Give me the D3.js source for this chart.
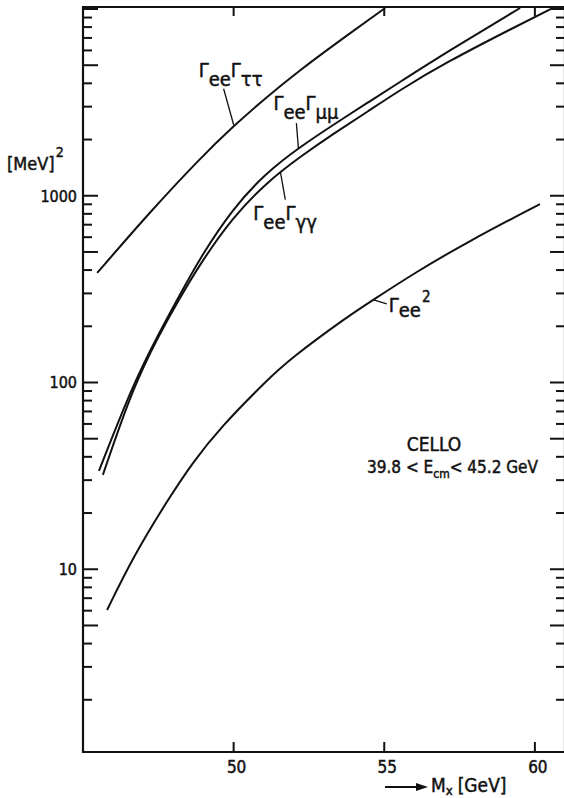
<!DOCTYPE html>
<html>
<head>
<meta charset="utf-8">
<script src="https://cdn.jsdelivr.net/npm/d3@7"></script>
<style>
  body { margin: 0; background: #fff; }
  svg { display: block; }
  text { font-family: "DejaVu Sans Condensed", "DejaVu Sans", sans-serif; font-stretch: condensed;
         fill: #111; stroke: #111; stroke-width: 0.45px; }
</style>
</head>
<body>
<svg id="chart" width="564" height="798"></svg>
<script>
// Values: M_x in GeV, width products in MeV^2
const massTauTau = [45.47, 47.22, 48.88, 49.98, 51.11, 52.2, 53.3, 55.03];
const tauTau     = [386, 818, 1583, 2349, 3395, 4702, 6378, 10125];

const massMuMu = [45.53, 46.66, 47.56, 48.12, 48.88, 49.98, 51.11, 52.2, 53.3, 54.43, 55.52, 57.08, 59.51];
const muMu     = [33.6, 98.2, 188.7, 276.6, 464, 860, 1341, 1824, 2392, 3139, 4065, 5886, 10125];

const massGamGam = [45.66, 46.66, 47.56, 48.12, 48.88, 49.98, 51.11, 52.2, 53.3, 54.43, 55.52, 57.08, 59.27, 60.73];
const gamGam     = [32.0, 94.6, 184.1, 266.6, 431, 770, 1185, 1613, 2141, 2808, 3684, 5203, 7913, 10377];

const massEe = [45.8, 46.66, 47.79, 48.65, 49.55, 51.11, 51.87, 53.76, 54.63, 55.95, 57.75, 60.17];
const eeSq   = [6.05, 11.63, 23.2, 37.5, 57.1, 103.1, 133.6, 224.2, 276.6, 381, 565, 903];

const xTicks = [50, 55, 60];
const yLabelTicks = [10, 100, 1000];
const yDecades = [1, 10, 100, 1000];

const svg = d3.select("#chart");

// plot frame
const frameL = 83, frameR = 565, frameT = 7, frameB = 752;

const x = d3.scaleLinear().domain([45, 61]).range([83, 565]);
const y = d3.scaleLog().domain([1, 10000]).range([756, 9]);

const zip = (xs, ys) => xs.map((m, i) => ({ m: m, v: ys[i] }));
const curves = [
  { key: "tautau", data: zip(massTauTau, tauTau) },
  { key: "mumu", data: zip(massMuMu, muMu) },
  { key: "gamgam", data: zip(massGamGam, gamGam) },
  { key: "ee", data: zip(massEe, eeSq) }
];

svg.append("clipPath").attr("id", "plot-clip")
  .append("rect")
  .attr("x", frameL).attr("y", frameT)
  .attr("width", frameR - frameL).attr("height", frameB - frameT);

const line = d3.line()
  .x(d => x(d.m))
  .y(d => y(d.v))
  .curve(d3.curveBasis);

svg.append("g")
  .attr("clip-path", "url(#plot-clip)")
  .selectAll("path")
  .data(curves)
  .enter()
  .append("path")
  .attr("d", d => line(d.data))
  .attr("fill", "none")
  .attr("stroke", "#111")
  .attr("stroke-width", 2)
  .attr("stroke-linejoin", "round");

// frame
svg.append("path")
  .attr("d", `M${frameR},${frameT}H${frameL}V${frameB}H${frameR}V${frameT}`)
  .attr("fill", "none")
  .attr("stroke", "#111")
  .attr("stroke-width", 2.2);

// log ticks on both vertical sides
const yTickVals = [];
yDecades.forEach(d => {
  d3.range(1, 10).forEach(k => {
    const v = k * d;
    if (y(v) <= frameB && y(v) >= frameT) yTickVals.push({ v: v, major: k === 1 || k === 5 });
  });
});
yTickVals.push({ v: 10000, major: true });

const ticks = svg.append("g").attr("stroke", "#111").attr("stroke-width", 2);
ticks.selectAll(".yl")
  .data(yTickVals)
  .enter()
  .append("line")
  .attr("x1", frameL)
  .attr("x2", d => frameL + (d.major ? 15 : 9))
  .attr("y1", d => y(d.v))
  .attr("y2", d => y(d.v));
ticks.selectAll(".yr")
  .data(yTickVals)
  .enter()
  .append("line")
  .attr("x1", frameR)
  .attr("x2", d => frameR - (d.major ? 15 : 9))
  .attr("y1", d => y(d.v))
  .attr("y2", d => y(d.v));

// x ticks, bottom up and top down
ticks.selectAll(".xb")
  .data(xTicks)
  .enter()
  .append("line")
  .attr("x1", d => x(d)).attr("x2", d => x(d))
  .attr("y1", frameB).attr("y2", frameB - 10);
ticks.selectAll(".xt")
  .data(xTicks)
  .enter()
  .append("line")
  .attr("x1", d => x(d)).attr("x2", d => x(d))
  .attr("y1", frameT).attr("y2", frameT + 9);

// tick labels
svg.selectAll(".ylab")
  .data(yLabelTicks)
  .enter()
  .append("text")
  .attr("x", frameL - 6)
  .attr("y", d => y(d))
  .attr("dy", "0.36em")
  .attr("text-anchor", "end")
  .attr("font-size", "16px")
  .text(d => d);

svg.selectAll(".xlab")
  .data(xTicks)
  .enter()
  .append("text")
  .attr("x", d => x(d) + 3)
  .attr("y", 773)
  .attr("text-anchor", "middle")
  .attr("font-size", "17px")
  .text(d => d);

// axis titles
const yTitle = svg.append("text").attr("x", 7).attr("y", 170).attr("font-size", "18px");
yTitle.append("tspan").text("[MeV]");
yTitle.append("tspan").attr("y", 157).attr("font-size", "14px").attr("dx", 1).text("2");

svg.append("line")
  .attr("x1", 385).attr("x2", 420)
  .attr("y1", 787).attr("y2", 787)
  .attr("stroke", "#111").attr("stroke-width", 1.8);
svg.append("path")
  .attr("d", "M416,783L428,787L416,791Z")
  .attr("fill", "#111");
const xTitle = svg.append("text").attr("x", 431).attr("y", 792).attr("font-size", "19px");
xTitle.append("tspan").text("M");
xTitle.append("tspan").attr("y", 795).attr("font-size", "13px").text("x");
xTitle.append("tspan").attr("y", 792).attr("dx", 5).text("[GeV]");

// curve labels: each piece is [text, 0 normal / 1 subscript / 2 superscript]
const annotations = [
  { m: 50.0, v: 2400, dx: -10, dy: -36, lx: -35, ly: -48, sub: 9,
    parts: [["Γ", 0], ["ee", 1], ["Γ", 0], ["ττ", 1]] },
  { m: 52.15, v: 1800, dx: -2, dy: -25, lx: -25, ly: -38, sub: 9,
    parts: [["Γ", 0], ["ee", 1], ["Γ", 0], ["μμ", 1]] },
  { m: 51.55, v: 1345, dx: 5, dy: 28, lx: -27, ly: 48, sub: 9,
    parts: [["Γ", 0], ["ee", 1], ["Γ", 0], ["γγ", 1]] },
  { m: 54.65, v: 277, dx: 13, dy: 4, lx: 15, ly: 12, sub: 5,
    parts: [["Γ", 0], ["ee", 1], ["2", 2]] }
];

annotations.forEach(a => {
  const px = x(a.m), py = y(a.v);
  svg.append("line")
    .attr("x1", px).attr("y1", py)
    .attr("x2", px + a.dx).attr("y2", py + a.dy)
    .attr("stroke", "#111").attr("stroke-width", 1.3);
  const t = svg.append("text")
    .attr("x", px + a.lx)
    .attr("y", py + a.ly)
    .attr("font-size", "20px");
  a.parts.forEach(p => {
    const s = t.append("tspan").text(p[0]);
    if (p[1] === 0) s.attr("y", py + a.ly);
    if (p[1] === 1) s.attr("y", py + a.ly + a.sub);
    if (p[1] === 2) s.attr("y", py + a.ly - 10).attr("font-size", "15px").attr("dx", 1);
  });
});

// experiment note
svg.append("text")
  .attr("x", 434).attr("y", 451)
  .attr("text-anchor", "middle")
  .attr("font-size", "19px")
  .text("CELLO");
const note = svg.append("text").attr("x", 367).attr("y", 473).attr("font-size", "17px");
note.append("tspan").text("39.8 < E");
note.append("tspan").attr("y", 478).attr("font-size", "12px").text("cm");
note.append("tspan").attr("y", 473).text("< 45.2 GeV");
</script>
</body>
</html>
